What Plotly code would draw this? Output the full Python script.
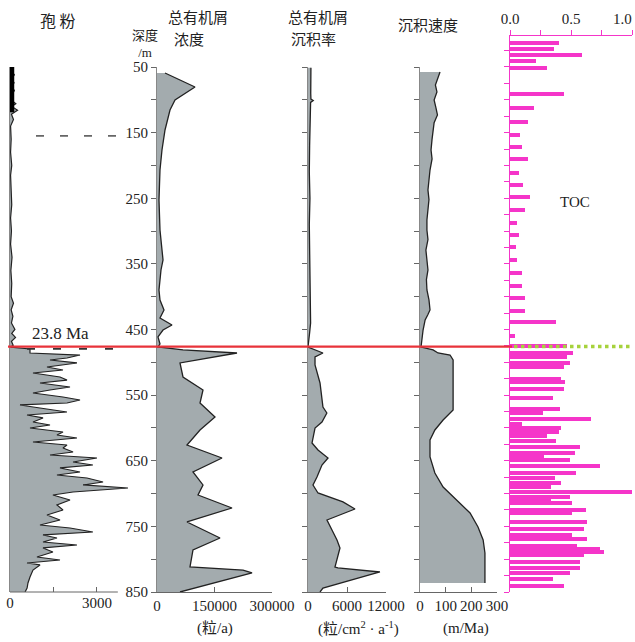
import plotly.graph_objects as go

# ---------------- data (depth in m) ----------------
spore_depth = [50, 56, 62, 68, 74, 80, 86, 93, 100, 106, 110, 116, 122, 130, 140, 160, 180, 200, 215,
               240, 260, 280, 300, 320, 340, 360, 380, 400, 410, 420, 430, 440, 450, 456, 462, 468, 474,
               477, 479.7, 485.8, 488.9, 493.4, 496.5, 501.0, 507.1, 511.7, 516.3, 522.4, 527.0, 531.5,
               537.6, 542.2, 546.8, 552.9, 557.4, 562.0, 565.0, 569.6, 575.7, 580.3, 584.8, 590.9, 595.5,
               600.1, 606.2, 610.8, 615.3, 621.4, 626.0, 630.6, 636.7, 641.2, 645.8, 651.9, 656.5, 661.0,
               667.1, 671.7, 676.3, 682.4, 686.9, 691.5, 697.6, 702.2, 709.8, 717.4, 725.0, 732.7, 740.3,
               747.9, 752.5, 758.6, 763.1, 767.7, 773.8, 778.4, 782.9, 789.0, 796.7, 801.2, 805.8, 808.8,
               816.5, 827.1, 836.3, 843.9, 850]
spore_vals = [120, 40, 150, 50, 140, 60, 150, 60, 30, 200, 60, 260, 50, 120, 20, 40, 20, 60, 20,
              40, 60, 20, 50, 20, 70, 30, 60, 40, 120, 40, 100, 50, 170, 60, 190, 50, 110,
              20, 690, 690, 2415, 1966, 1380, 2310, 1276, 1828, 793, 1725, 1966, 1035,
              2070, 1380, 793, 1828, 2415, 1966, 345, 1035, 1966, 587, 1139, 793, 1380,
              690, 1828, 1620, 2310, 793, 1966, 1828, 2175, 1380, 3000, 2175, 2860, 1725,
              2415, 1620, 2655, 3210, 2520, 4070, 2175, 1480, 2070, 1620, 1828, 1276, 1725,
              1035, 2070, 2860, 1139, 1620, 1139, 2310, 1139, 1480, 930, 1725, 587, 1035,
              793, 690, 620, 590, 520]
spore_bar_depth = [47, 119]
spore_bar_vals = [60, 60]

conc_depth = [59.1, 80.5, 100.3, 115.5, 146, 176.5, 207, 252.7, 298.4, 344.1, 359.3, 389.8, 405,
              420.3, 432.5, 443.2, 450.8, 461.4, 472.1, 476.7, 481.2, 485.8, 501.0, 522.4, 542.2,
              562.0, 583.3, 603.1, 626.0, 645.8, 667.1, 686.9, 702.2, 722.0, 743.3, 767.7, 786.0,
              811.9, 816.5, 821.0, 850]
conc_vals = [20900, 99100, 47000, 33900, 20900, 13000, 7800, 5200, 7800, 15700, 10400, 5200, 7800,
             18300, 7800, 39100, 15700, 2600, 7800, 2600, 67800, 208700, 60000, 67800, 120000,
             112200, 151300, 112200, 78300, 169600, 93900, 120000, 107000, 195700, 78300, 164400, 93900,
             86100, 224400, 247900, 60000]

accum_depth = [51, 70, 90, 99, 101, 104, 130, 170, 210, 250, 290, 330, 370, 410, 440, 455, 470,
               476.7, 485.8, 491.9, 504.1, 531.5, 568.1, 577.2, 590.9, 600.1, 622.9, 633.6, 645.8,
               656.5, 674.8, 686.9, 699.1, 712.8, 723.5, 740.3, 755.5, 770.7, 782.9, 811.9, 813.4,
               819.5, 843.9, 850]
accum_vals = [450, 400, 420, 450, 800, 400, 300, 250, 200, 300, 200, 250, 200, 300, 400, 250, 150,
              0, 2300, 1080, 1080, 1850, 2300, 2900, 2150, 1080, 620, 1540, 3080,
              2150, 1380, 770, 1540, 5380, 7230, 2920, 3690, 4460, 4920, 4150, 4600,
              11070, 2300, 1850]

sed_depth = [57.6, 66, 77.4, 88, 100.3, 112, 123.1, 135, 146, 160, 176.5, 190, 207, 222, 237.4, 252,
             267.9, 283, 298.4, 313, 328.9, 344, 359.3, 374, 389.8, 405, 420.3, 428, 435.5, 450.8,
             466, 476.7, 481.2, 485.8, 488.9, 496.5, 572.7, 577.2, 587.9, 603.1, 618.4, 644.3, 668.7,
             690, 709.8, 729.6, 750.9, 770.7, 790.6, 816.5, 836.3]
sed_vals = [78, 70, 60, 66, 55, 62, 68, 55, 51, 47, 43, 47, 39, 35, 31, 35,
            31, 27, 27, 31, 23, 27, 31, 25, 27, 35, 39, 30, 20, 12,
            6, 4, 51, 70, 117, 129, 129, 117, 90, 58, 39, 39, 58,
            90, 144, 195, 226, 246, 253, 253, 253]

toc_depth = [13.0, 22.6, 31.7, 41.3, 52.0, 91.6, 112.0, 133.4, 153.6, 171.4, 190.6, 211.1, 229.8,
             248.6, 267.9, 287.3, 306.5, 324.7, 344.1, 364.4, 383.3, 402.5, 421.8, 438.1, 459.4,
             475.1, 486.3, 492.4, 500.6, 506.7, 525.4, 529.5, 541.1, 554.8, 571.6, 577.7, 586.4,
             594.0, 600.6, 605.7, 612.3, 619.4, 628.6, 638.6, 643.8, 648.9, 658.0, 668.2, 676.8,
             683.4, 690.5, 697.2, 704.8, 709.8, 714.8, 725.0, 730.1, 742.9, 754.5, 763.6, 769.7,
             779.9, 784.9, 788.6, 793.6, 803.8, 813.9, 820.6, 830.6, 840.9]
toc_vals = [0.40, 0.36, 0.59, 0.21, 0.30, 0.44, 0.20, 0.15, 0.08, 0.10, 0.15, 0.07, 0.11,
            0.16, 0.12, 0.06, 0.07, 0.05, 0.06, 0.10, 0.10, 0.12, 0.12, 0.38, 0.04,
            0.47, 0.52, 0.47, 0.49, 0.44, 0.42, 0.45, 0.44, 0.35, 0.41, 0.27, 0.66,
            0.10, 0.42, 0.40, 0.30, 0.38, 0.57, 0.53, 0.28, 0.49, 0.74, 0.54, 0.37,
            0.42, 0.34, 1.00, 0.49, 0.34, 0.51, 0.62, 0.51, 0.63, 0.61, 0.51, 0.63,
            0.55, 0.74, 0.77, 0.61, 0.57, 0.57, 0.49, 0.35, 0.44]

boundary_depth = 476
depth_ticks = list(range(50, 851, 50))
depth_labels = [str(d) if (d - 50) % 100 == 0 else "" for d in depth_ticks]
toc_ticks = list(range(25, 851, 25))

# ---------------- figure ----------------
W, H = 635, 642
def px(x): return x / W
def py(y): return 1 - y / H

FILL = "#a3abae"
LINE = "#222222"
AX = "#666666"
MAG = "#f535c9"
SERIF = "Liberation Serif, Times New Roman, serif"
CJK = "Noto Sans CJK SC"

fig = go.Figure()
fig.add_trace(go.Scatter(x=spore_vals, y=spore_depth, xaxis="x", yaxis="y", mode="lines",
                         line=dict(color=LINE, width=1.2), fill="tozerox",
                         fillcolor=FILL, showlegend=False))
fig.add_trace(go.Scatter(x=spore_bar_vals, y=spore_bar_depth, xaxis="x", yaxis="y", mode="lines",
                         line=dict(color="#000", width=5), showlegend=False))
fig.add_trace(go.Scatter(x=conc_vals, y=conc_depth, xaxis="x2", yaxis="y2", mode="lines",
                         line=dict(color=LINE, width=1.3), fill="tozerox", fillcolor=FILL,
                         showlegend=False))
fig.add_trace(go.Scatter(x=accum_vals, y=accum_depth, xaxis="x3", yaxis="y3", mode="lines",
                         line=dict(color=LINE, width=1.3), fill="tozerox", fillcolor=FILL,
                         showlegend=False))
fig.add_trace(go.Scatter(x=sed_vals, y=sed_depth, xaxis="x4", yaxis="y4", mode="lines",
                         line=dict(color=LINE, width=1.3), fill="tozerox", fillcolor=FILL,
                         showlegend=False))
fig.add_trace(go.Bar(x=toc_vals, y=toc_depth, xaxis="x5", yaxis="y5", orientation="h",
                     width=6.3, marker=dict(color=MAG, line=dict(width=0)), showlegend=False))

ydom = [py(592), py(67)]
tickfont = dict(family=SERIF, size=15, color="#222")
common_x = dict(showgrid=False, zeroline=False, ticks="inside", ticklen=5, tickcolor=AX,
                tickfont=tickfont, fixedrange=True, automargin=False, tickangle=0)
common_y = dict(showgrid=False, zeroline=False, range=[850, 50], domain=ydom, fixedrange=True,
                automargin=False)

fig.update_layout(
    template="none",
    width=W, height=H, margin=dict(l=0, r=0, t=0, b=0, autoexpand=False),
    paper_bgcolor="white", plot_bgcolor="rgba(0,0,0,0)", bargap=0,
    xaxis=dict(domain=[px(10), px(150)], range=[0, 4830], anchor="y", tickvals=[0, 1500, 3000],
               ticktext=["0", "", "3000"], showline=False, **common_x),
    yaxis=dict(anchor="x", showline=True, linecolor="#888", linewidth=1, ticks="",
               showticklabels=False, **common_y),
    xaxis2=dict(domain=[px(157), px(272)], range=[0, 300000], anchor="y2",
                tickvals=[0, 150000, 300000], ticktext=["0", "150000", "300000"],
                showline=True, linecolor=AX, **common_x),
    yaxis2=dict(anchor="x2", showline=True, linecolor="#888", ticks="outside", ticklen=5,
                tickcolor=AX, tickvals=depth_ticks, ticktext=depth_labels, tickfont=tickfont,
                **common_y),
    xaxis3=dict(domain=[px(308), px(386)], range=[0, 12000], anchor="y3",
                tickvals=[0, 6000, 12000], ticktext=["0", "6000", "12000"],
                showline=True, linecolor=AX, **common_x),
    yaxis3=dict(anchor="x3", showline=True, linecolor="#888", ticks="outside", ticklen=5,
                tickcolor=AX, tickvals=depth_ticks, showticklabels=False, **common_y),
    xaxis4=dict(domain=[px(420), px(497)], range=[0, 300], anchor="y4",
                tickvals=[0, 100, 200, 300], ticktext=["0", "100", "200", "300"],
                showline=True, linecolor=AX, **common_x),
    yaxis4=dict(anchor="x4", showline=True, linecolor="#888", ticks="outside", ticklen=5,
                tickcolor=AX, tickvals=depth_ticks, showticklabels=False, **common_y),
    xaxis5=dict(domain=[px(510), px(632)], range=[0, 1.0], anchor="y5", side="top",
                tickvals=[0, 0.25, 0.5, 0.75, 1.0], ticktext=["0.0", "", "0.5", "", ""],
                showline=True, linecolor=MAG, linewidth=1.5, showgrid=False, zeroline=False,
                ticks="outside", ticklen=5, tickcolor=MAG, tickfont=tickfont, fixedrange=True,
                automargin=False, tickangle=0, ticklabeloverflow="allow"),
    yaxis5=dict(anchor="x5", domain=[py(592), py(36)], range=[850, 2.8], showline=True,
                linecolor=MAG, linewidth=1.5, ticks="outside", ticklen=5, tickcolor=MAG,
                tickvals=toc_ticks, showticklabels=False, showgrid=False, zeroline=False,
                fixedrange=True, automargin=False),
)

shapes = [
    # spore bottom axis line
    dict(type="line", xref="x", yref="paper", x0=0, x1=3720, y0=py(592), y1=py(592),
         line=dict(color=AX, width=1)),
    # boundary red line and green dotted continuation
    dict(type="line", xref="paper", yref="y2", x0=px(8), x1=px(512), y0=boundary_depth,
         y1=boundary_depth, line=dict(color="#e8333a", width=2.2)),
    dict(type="line", xref="paper", yref="y2", x0=px(514), x1=px(633), y0=boundary_depth,
         y1=boundary_depth, line=dict(color="#a6d23c", width=3.5, dash="dot")),
    # dashed marker lines in the spore panel
    dict(type="line", xref="paper", yref="y", x0=px(36), x1=px(126), y0=155, y1=155,
         line=dict(color="#666", width=1.6, dash="8px,16px")),
    dict(type="line", xref="paper", yref="y", x0=px(27), x1=px(128), y0=479.5, y1=479.5,
         line=dict(color="#333", width=1.6, dash="8px,18px")),
]
fig.update_layout(shapes=shapes)

def txt(x, y, s, size=15, family=CJK, color="#222"):
    fig.add_annotation(x=px(x), y=py(y), xref="paper", yref="paper", text=s, showarrow=False,
                       font=dict(family=family, size=size, color=color), xanchor="center",
                       yanchor="middle")

txt(58, 20, "孢 粉", 16)
txt(198, 16, "总有机屑", 15)
txt(145, 43, "深度<br><span style='font-family:Liberation Serif'>/m</span>", 13)
txt(189, 39, "浓度", 15)
txt(318, 16, "总有机屑", 15)
txt(313, 39, "沉积率", 15)
txt(428, 24, "沉积速度", 15)
txt(622, 19, "1.0", 15, SERIF)
txt(575, 202, "TOC", 15, SERIF)
txt(60, 334, "23.8 Ma", 17, SERIF)
txt(215, 628, "(粒/a)", 15, SERIF + ", " + CJK)
txt(358, 628, "(粒/cm<sup>2</sup> · a<sup>-1</sup>)", 15, SERIF + ", " + CJK)
txt(466, 628, "(m/Ma)", 15, SERIF)

fig.write_html("out.html", config={"displayModeBar": False, "staticPlot": True},
               post_script="document.body.style.margin='0';document.body.style.overflow='hidden';")
